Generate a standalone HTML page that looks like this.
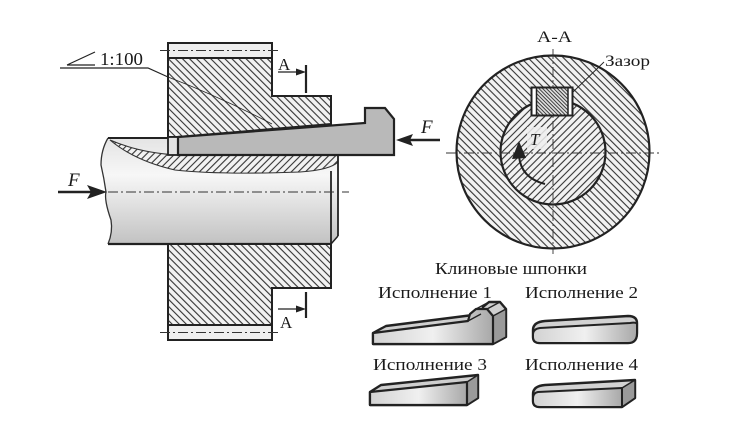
<!DOCTYPE html>
<html><head><meta charset="utf-8"><style>
html,body{margin:0;padding:0;background:#fff;}
svg{display:block;}
text{font-family:"Liberation Serif","Noto Serif CJK SC",serif;fill:#1a1a1a;}
</style></head><body>
<svg width="733" height="422" viewBox="0 0 733 422" xmlns="http://www.w3.org/2000/svg">
<defs>
<pattern id="hb" patternUnits="userSpaceOnUse" width="5" height="5" patternTransform="rotate(-45)">
<rect width="5" height="5" fill="#f2f2f2"/><line x1="2.5" y1="0" x2="2.5" y2="5" stroke="#333" stroke-width="1.1"/></pattern>
<pattern id="hf" patternUnits="userSpaceOnUse" width="5" height="5" patternTransform="rotate(45)">
<rect width="5" height="5" fill="#f2f2f2"/><line x1="2.5" y1="0" x2="2.5" y2="5" stroke="#333" stroke-width="1.1"/></pattern>
<pattern id="hk" patternUnits="userSpaceOnUse" width="2.6" height="2.6" patternTransform="rotate(-45)">
<rect width="2.6" height="2.6" fill="#ddd"/><line x1="1.3" y1="0" x2="1.3" y2="2.6" stroke="#333" stroke-width="0.9"/></pattern>
<linearGradient id="gs" x1="0" y1="0" x2="0" y2="1">
<stop offset="0" stop-color="#e4e4e4"/><stop offset="0.35" stop-color="#f7f7f7"/><stop offset="1" stop-color="#c2c2c2"/></linearGradient>
<linearGradient id="gk" x1="0" y1="0" x2="1" y2="0">
<stop offset="0" stop-color="#d2d2d2"/><stop offset="0.5" stop-color="#f0f0f0"/><stop offset="1" stop-color="#a8a8a8"/></linearGradient>
</defs>

<!-- ===== LEFT DRAWING ===== -->
<path d="M108,138 L338,138 L338,236 L331,244 L108,244 Q113,232 111,220 Q104,200 106,192 Q104,178 101,165 Q101,150 108,138 Z" fill="url(#gs)"/>
<path d="M108,138 Q101,150 101,165 Q104,178 106,192 Q104,200 111,220 Q113,232 108,244" fill="none" stroke="#333" stroke-width="1.3"/>
<line x1="108" y1="244" x2="331" y2="244" stroke="#222" stroke-width="2.2"/>
<line x1="108" y1="138" x2="178" y2="138" stroke="#222" stroke-width="2"/>
<path d="M110,140 Q140,153 178,155 L338,155 L338,162 Q330,170 300,172 Q220,175 175,170 Q135,161 110,140 Z" fill="url(#hf)" stroke="#333" stroke-width="1.1"/>
<line x1="331" y1="171" x2="331" y2="244" stroke="#222" stroke-width="1.8"/>
<line x1="338" y1="155" x2="338" y2="236" stroke="#222" stroke-width="1.8"/>
<line x1="338" y1="236" x2="331" y2="244" stroke="#222" stroke-width="1.5"/>

<rect x="168" y="43" width="104" height="15" fill="#eee" stroke="#222" stroke-width="2"/>
<path d="M168,58 L272,58 L272,96 L331,96 L331,124 L178,137 L168,137 Z" fill="url(#hb)" stroke="#222" stroke-width="2"/>
<rect x="168" y="137" width="10" height="18" fill="#e2e2e2" stroke="#222" stroke-width="1.8"/>
<path d="M178,137 L365,123 L365,108 L385,108 L394,119 L394,155 L178,155 Z" fill="#b9b9b9" stroke="#222" stroke-width="2.2"/>

<path d="M168,244 L331,244 L331,288 L272,288 L272,325 L168,325 Z" fill="url(#hb)" stroke="#222" stroke-width="2"/>
<rect x="168" y="325" width="104" height="15" fill="#eee" stroke="#222" stroke-width="2"/>

<g stroke="#333" stroke-width="0.9" stroke-dasharray="10 3 2 3" fill="none">
<line x1="160" y1="50.5" x2="278" y2="50.5"/>
<line x1="160" y1="332.5" x2="278" y2="332.5"/>
<line x1="108" y1="192" x2="349" y2="192"/>
</g>

<g stroke="#222" stroke-width="1.2" fill="none">
<path d="M67,65 L95,52 M67,65 L95,65"/>
<polyline points="60,68 148,68 168,77"/>
<path d="M168,77 Q218,96 272,124" stroke-width="0.8"/>
</g>
<text x="100" y="65" font-size="18" textLength="43" lengthAdjust="spacingAndGlyphs">1:100</text>

<g stroke="#222" fill="#222">
<line x1="306" y1="65" x2="306" y2="93" stroke-width="2.2"/>
<line x1="278" y1="72" x2="298" y2="72" stroke-width="1.2"/>
<path d="M306,72 L296,68.5 L296,75.5 Z" stroke="none"/>
<line x1="306" y1="292" x2="306" y2="318" stroke-width="2.2"/>
<line x1="278" y1="309" x2="298" y2="309" stroke-width="1.2"/>
<path d="M306,309 L296,305.5 L296,312.5 Z" stroke="none"/>
</g>
<text x="278" y="70" font-size="17">A</text>
<text x="280" y="328" font-size="17">A</text>

<g stroke="#222" fill="#222">
<line x1="58" y1="192" x2="92" y2="192" stroke-width="2.4"/>
<path d="M107,192 L87,185 L91,192 L87,199 Z" stroke="none"/>
<line x1="440" y1="140" x2="410" y2="140" stroke-width="2.4"/>
<path d="M396,140 L413,134 L410,140 L413,146 Z" stroke="none"/>
</g>
<text x="68" y="186" font-size="19" font-style="italic">F</text>
<text x="421" y="133" font-size="19" font-style="italic">F</text>

<!-- ===== SECTION A-A ===== -->
<circle cx="553" cy="152" r="96.5" fill="url(#hb)" stroke="#222" stroke-width="2.2"/>
<circle cx="553" cy="152" r="52.5" fill="url(#hf)" stroke="#222" stroke-width="2.2"/>
<g stroke="#333" stroke-width="0.9" stroke-dasharray="10 3 2 3" fill="none">
<line x1="446" y1="153" x2="661" y2="153"/>
<line x1="553" y1="49" x2="553" y2="254"/>
</g>
<rect x="531.5" y="87.5" width="41" height="28" fill="#fff" stroke="#222" stroke-width="2"/>
<rect x="536.5" y="88.5" width="31.5" height="26" fill="url(#hk)"/>
<line x1="536.5" y1="88" x2="536.5" y2="115" stroke="#222" stroke-width="1.5"/>
<line x1="568" y1="88" x2="568" y2="115" stroke="#222" stroke-width="1.5"/>
<rect x="527" y="127" width="20" height="22" fill="#eee" opacity="0.85"/>
<text x="530" y="145" font-size="17" font-style="italic">T</text>
<path d="M545,184 Q521,178 519,156" fill="none" stroke="#222" stroke-width="2"/>
<path d="M519,141 L512,159 L526,158 Z" fill="#222"/>
<line x1="573" y1="92" x2="604" y2="62" stroke="#222" stroke-width="0.9"/>
<text x="537" y="42" font-size="16" textLength="35" lengthAdjust="spacingAndGlyphs">A-A</text>
<text x="605" y="66" font-size="16" textLength="45" lengthAdjust="spacingAndGlyphs">Зазор</text>

<!-- ===== KEYS ===== -->
<text x="435" y="274" font-size="17" textLength="152" lengthAdjust="spacingAndGlyphs">Клиновые шпонки</text>
<text x="378" y="298" font-size="17" textLength="114" lengthAdjust="spacingAndGlyphs">Исполнение 1</text>
<text x="525" y="298" font-size="17" textLength="113" lengthAdjust="spacingAndGlyphs">Исполнение 2</text>
<text x="373" y="370" font-size="17" textLength="114" lengthAdjust="spacingAndGlyphs">Исполнение 3</text>
<text x="525" y="370" font-size="17" textLength="113" lengthAdjust="spacingAndGlyphs">Исполнение 4</text>

<!-- key 1 -->
<g stroke="#222" stroke-linejoin="round">
<path d="M373,333 L386,326 L481,314 L483,307 L489,302 L500,302 L506,309 L506,337 L493,344 L373,344 Z" fill="#cfcfcf" stroke-width="2.4"/>
<path d="M493,316 L506,309 L506,337 L493,344 Z" fill="#9a9a9a" stroke-width="1.5"/>
<path d="M373,333 L468,321 L470,314 L476,309 L487,309 L493,316 L493,344 L373,344 Z" fill="url(#gk)" stroke-width="2.2"/>
<path d="M476,309 L489,302 M487,309 L500,302 M468,321 L481,314" fill="none" stroke-width="1.3"/>
</g>
<!-- key 3 -->
<g stroke="#222" stroke-linejoin="round">
<path d="M370,392 L381,385 L478,375 L478,398 L467,405 L370,405 Z" fill="#cfcfcf" stroke-width="2.4"/>
<path d="M467,382 L478,375 L478,398 L467,405 Z" fill="#9a9a9a" stroke-width="1.5"/>
<path d="M370,392 L467,382 L467,405 L370,405 Z" fill="url(#gk)" stroke-width="2.2"/>
</g>
<!-- key 2 -->
<g stroke="#222" stroke-linejoin="round">
<path d="M540,343 L628,343 Q637,343 637,333 L637,323 Q637,316 628,316 L545,321 Q533,322 533,330 L533,337 Q533,343 540,343 Z" fill="#d2d2d2" stroke-width="2.4"/>
<path d="M540,343 L628,343 Q637,343 637,333 L637,324 Q636,322 630,323 L540,328 Q533,329 533,334 L533,337 Q533,343 540,343 Z" fill="url(#gk)" stroke-width="2"/>
</g>
<!-- key 4 -->
<g stroke="#222" stroke-linejoin="round">
<path d="M540,407 L622,407 L635,398 L635,380 L545,385 Q533,386 533,394 L533,401 Q533,407 540,407 Z" fill="#d2d2d2" stroke-width="2.4"/>
<path d="M622,388 L635,380 L635,398 L622,407 Z" fill="#9a9a9a" stroke-width="1.5"/>
<path d="M540,407 L622,407 L622,388 L538,392 Q533,393 533,398 L533,401 Q533,407 540,407 Z" fill="url(#gk)" stroke-width="2"/>
</g>
</svg>
</body></html>
